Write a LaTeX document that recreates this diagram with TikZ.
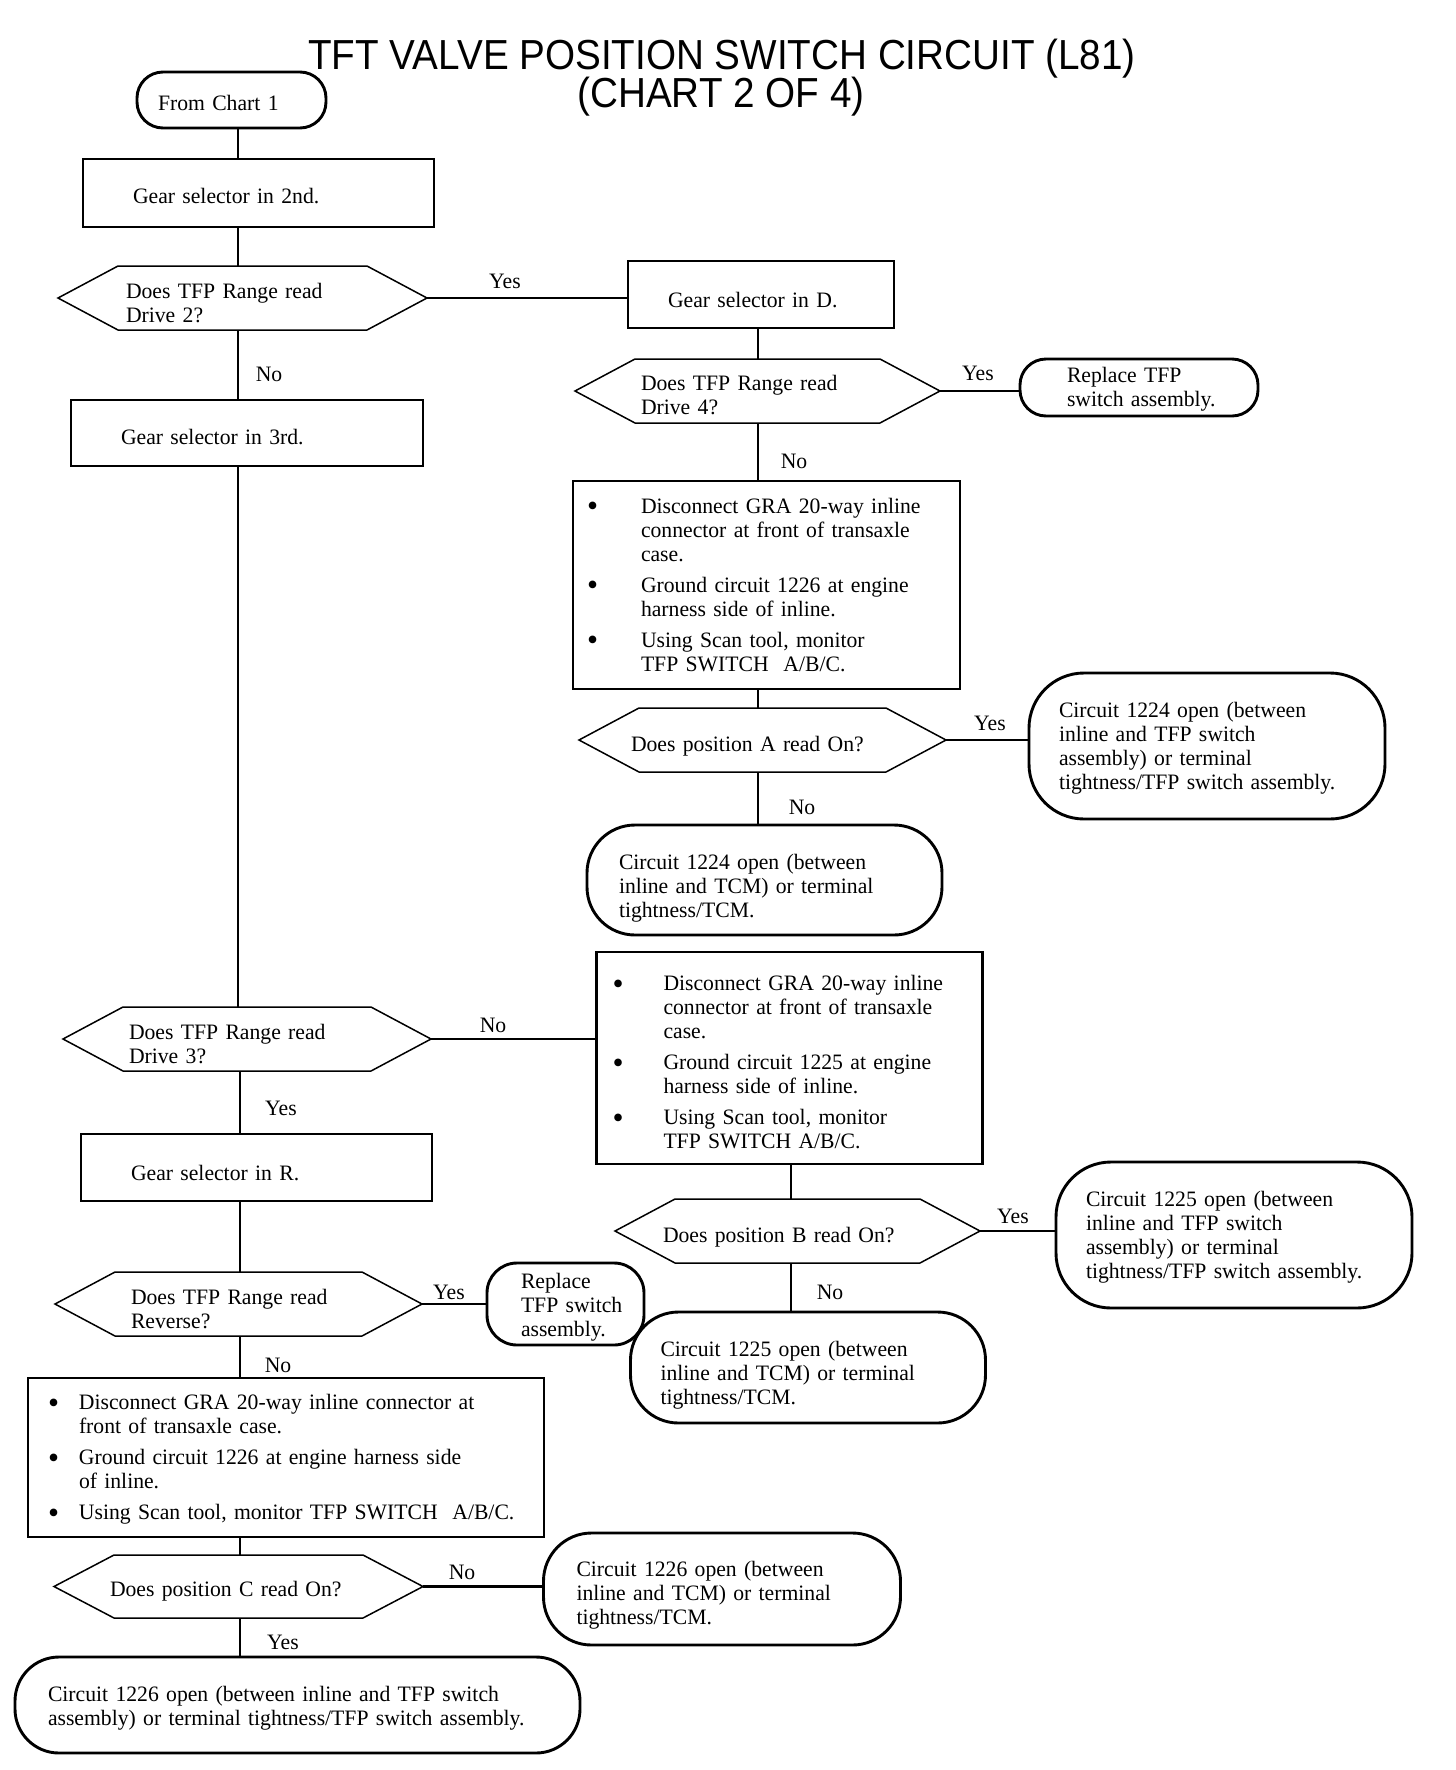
\documentclass[tikz,border=0pt]{standalone}
\usepackage{fontspec}
\setmainfont[FakeStretch=0.985]{Liberation Serif}
\newfontfamily\titlefont[FakeStretch=0.92]{Liberation Sans}
\usetikzlibrary{calc}
\newcommand\bodyfont{\fontsize{22}{24}\selectfont}
\newcommand\lns[1]{\begin{tabular}{@{}l@{}}#1\end{tabular}}
\newcommand\bul[1]{\makebox[#1][l]{\hspace*{-4pt}\raisebox{-3.5pt}{\fontsize{32}{24}\selectfont\textbullet}}}
\newcommand\dn[2]{\raisebox{-#1}[\height][\depth]{#2}}
\newcommand\drawhex[1]{\draw[hexline] (#1.west) -- ([xshift=60pt]#1.north west) -- ([xshift=-60pt]#1.north east) -- (#1.east) -- ([xshift=-60pt]#1.south east) -- ([xshift=60pt]#1.south west) -- cycle;}
\tikzset{
  procbox/.style={draw, line width=2.2pt, rectangle, inner sep=0pt, outer sep=0pt, align=left, font=\bodyfont},
  termbox/.style={draw, line width=2.9pt, rectangle, rounded corners=#1, inner sep=0pt, outer sep=0pt, align=left, font=\bodyfont},
  decbox/.style={rectangle, inner sep=0pt, outer sep=0pt, align=left, font=\bodyfont},
  hexline/.style={line width=1.5pt, line join=miter},
  vline/.style={line width=1.1pt},
  hline/.style={line width=2.8pt},
  lbl/.style={inner sep=0pt, font=\bodyfont},
  ttl/.style={inner sep=0pt, font=\titlefont\fontsize{42}{42}\selectfont}
}
\begin{document}
\begin{tikzpicture}[x=1pt,y=-1pt]
\useasboundingbox[fill=white] (0,0) rectangle (1456,1770);
% title
\node[ttl, anchor=base] (title1) at (722,69) {TFT VALVE POSITION SWITCH CIRCUIT (L81)};
\node[ttl, anchor=base] (title2) at (721,107) {(CHART 2 OF 4)};

% column coordinates
\coordinate (lx) at (238,0);
\coordinate (lx2) at (240,0);
\coordinate (rx1) at (758,0);
\coordinate (rx2) at (791,0);

% left column
\node[termbox=26pt, minimum width=189pt, minimum height=56pt, text width=147pt] (from) at (231.5,100) {\dn{3.4pt}{From Chart 1}};
\node[procbox, minimum width=351pt, minimum height=68pt, text width=251pt] (gear2) at (258.5,193) {\dn{3.4pt}{Gear selector in 2nd.}};
\node[decbox, minimum width=369pt, minimum height=64pt, text width=233pt] (dec2) at (242.5,298) {\dn{7.5pt}{\lns{Does TFP Range read\\Drive 2?}}};
\drawhex{dec2}
\node[procbox, minimum width=352pt, minimum height=66pt, text width=252pt] (gear3) at (247,433) {\dn{4.5pt}{Gear selector in 3rd.}};
\node[decbox, minimum width=368pt, minimum height=64pt, text width=236pt] (dec3) at (247,1039) {\dn{8pt}{\lns{Does TFP Range read\\Drive 3?}}};
\drawhex{dec3}
\node[procbox, minimum width=351pt, minimum height=67pt, text width=251pt] (gearR) at (256.5,1167.5) {\dn{5.6pt}{Gear selector in R.}};
\node[decbox, minimum width=367pt, minimum height=64pt, text width=215pt] (decR) at (238.5,1304) {\dn{8pt}{\lns{Does TFP Range read\\Reverse?}}};
\drawhex{decR}
\node[termbox=30pt, minimum width=157pt, minimum height=82pt, text width=89pt] (rep2) at (565.5,1304) {\dn{3.4pt}{\lns{Replace\\TFP switch\\assembly.}}};
\node[procbox, minimum width=516pt, minimum height=159pt, text width=468pt] (box3) at (286,1457.5) {\dn{2.6pt}{\begin{tabular}{@{}l@{}l@{}}
\bul{27pt} & Disconnect GRA 20-way inline connector at\\
 & front of transaxle case.\\[7pt]
\bul{27pt} & Ground circuit 1226 at engine harness side\\
 & of inline.\\[7pt]
\bul{27pt} & Using Scan tool, monitor TFP SWITCH\ \ A/B/C.
\end{tabular}}};
\node[decbox, minimum width=369pt, minimum height=63pt, text width=257pt] (decC) at (238.5,1586.5) {\dn{4.5pt}{Does position C read On?}};
\drawhex{decC}
\node[termbox=48pt, minimum width=357pt, minimum height=112pt, text width=291pt] (c1226tcm) at (722,1589) {\dn{6.8pt}{\lns{Circuit 1226 open (between\\inline and TCM) or terminal\\tightness/TCM.}}};
\node[termbox=44pt, minimum width=565pt, minimum height=96pt, text width=499pt] (bottom) at (297.5,1705) {\dn{3.4pt}{\lns{Circuit 1226 open (between inline and TFP switch\\assembly) or terminal tightness/TFP switch assembly.}}};

% right column 1
\node[procbox, minimum width=266pt, minimum height=67pt, text width=186pt] (gearD) at (761,294.5) {\dn{5.6pt}{Gear selector in D.}};
\node[decbox, minimum width=365pt, minimum height=64pt, text width=233pt] (dec4) at (757.5,391) {\dn{7pt}{\lns{Does TFP Range read\\Drive 4?}}};
\drawhex{dec4}
\node[termbox=26pt, minimum width=238pt, minimum height=57pt, text width=144pt] (rep1) at (1139,387.5) {\dn{2.3pt}{\lns{Replace TFP\\switch assembly.}}};
\node[procbox, minimum width=387pt, minimum height=208pt, text width=351pt] (box1) at (766.5,585) {\dn{2.5pt}{\begin{tabular}{@{}l@{}l@{}}
\bul{50pt} & Disconnect GRA 20-way inline\\
 & connector at front of transaxle\\
 & case.\\[7pt]
\bul{50pt} & Ground circuit 1226 at engine\\
 & harness side of inline.\\[7pt]
\bul{50pt} & Using Scan tool, monitor\\
 & TFP SWITCH\ \ A/B/C.
\end{tabular}}};
\node[decbox, minimum width=367pt, minimum height=64pt, text width=263pt] (decA) at (762.5,740) {\dn{6pt}{Does position A read On?}};
\drawhex{decA}
\node[termbox=55pt, minimum width=356pt, minimum height=146pt, text width=296pt] (c1224tfp) at (1207,746) {\dn{2.3pt}{\lns{Circuit 1224 open (between\\inline and TFP switch\\assembly) or terminal\\tightness/TFP switch assembly.}}};
\node[termbox=48pt, minimum width=355pt, minimum height=110pt, text width=291pt] (c1224tcm) at (764.5,880) {\dn{8.5pt}{\lns{Circuit 1224 open (between\\inline and TCM) or terminal\\tightness/TCM.}}};

% right column 2
\node[procbox, minimum width=386pt, minimum height=212pt, text width=346pt] (box2) at (789.5,1058) {\dn{6.8pt}{\begin{tabular}{@{}l@{}l@{}}
\bul{47pt} & Disconnect GRA 20-way inline\\
 & connector at front of transaxle\\
 & case.\\[7pt]
\bul{47pt} & Ground circuit 1225 at engine\\
 & harness side of inline.\\[7pt]
\bul{47pt} & Using Scan tool, monitor\\
 & TFP SWITCH A/B/C.
\end{tabular}}};
\node[decbox, minimum width=365pt, minimum height=64pt, text width=269pt] (decB) at (797.5,1231) {\dn{6pt}{Does position B read On?}};
\drawhex{decB}
\node[termbox=55pt, minimum width=356pt, minimum height=146pt, text width=296pt] (c1225tfp) at (1234,1235) {\dn{2.3pt}{\lns{Circuit 1225 open (between\\inline and TFP switch\\assembly) or terminal\\tightness/TFP switch assembly.}}};
\node[termbox=48pt, minimum width=355pt, minimum height=111pt, text width=295pt] (c1225tcm) at (808,1367.5) {\dn{8pt}{\lns{Circuit 1225 open (between\\inline and TCM) or terminal\\tightness/TCM.}}};

% vertical connectors
\draw[vline] (from.south -| lx) -- (gear2.north -| lx);
\draw[vline] (gear2.south -| lx) -- (dec2.north -| lx);
\draw[vline] (dec2.south -| lx) -- (gear3.north -| lx);
\draw[vline] (gear3.south -| lx) -- (dec3.north -| lx);
\draw[vline] (dec3.south -| lx2) -- (gearR.north -| lx2);
\draw[vline] (gearR.south -| lx2) -- (decR.north -| lx2);
\draw[vline] (decR.south -| lx2) -- (box3.north -| lx2);
\draw[vline] (box3.south -| lx2) -- (decC.north -| lx2);
\draw[vline] (decC.south -| lx2) -- (bottom.north -| lx2);
\draw[vline] (gearD.south -| rx1) -- (dec4.north -| rx1);
\draw[vline] (dec4.south -| rx1) -- (box1.north -| rx1);
\draw[vline] (box1.south -| rx1) -- (decA.north -| rx1);
\draw[vline] (decA.south -| rx1) -- (c1224tcm.north -| rx1);
\draw[vline] (box2.south -| rx2) -- (decB.north -| rx2);
\draw[vline] (decB.south -| rx2) -- (c1225tcm.north -| rx2);

% horizontal connectors
\draw[hline] (dec2.east) -- (gearD.west |- dec2.east);
\draw[hline] (dec4.east) -- (rep1.west |- dec4.east);
\draw[hline] (decA.east) -- (c1224tfp.west |- decA.east);
\draw[hline] (dec3.east) -- (box2.west |- dec3.east);
\draw[hline] (decB.east) -- (c1225tfp.west |- decB.east);
\draw[hline] (decR.east) -- (rep2.west |- decR.east);
\draw[hline] (decC.east) -- (c1226tcm.west |- decC.east);

% labels
\node[lbl] (l1) at (505,281) {Yes};
\node[lbl] (l2) at (269,374) {No};
\node[lbl] (l3) at (978,373) {Yes};
\node[lbl] (l4) at (794,461) {No};
\node[lbl] (l5) at (990,723) {Yes};
\node[lbl] (l6) at (802,807) {No};
\node[lbl] (l7) at (493,1025) {No};
\node[lbl] (l8) at (281,1108) {Yes};
\node[lbl] (l9) at (1013,1216) {Yes};
\node[lbl] (l10) at (830,1292) {No};
\node[lbl] (l11) at (449,1292) {Yes};
\node[lbl] (l12) at (278,1365) {No};
\node[lbl] (l13) at (462,1572) {No};
\node[lbl] (l14) at (283,1642) {Yes};
\end{tikzpicture}
\end{document}
